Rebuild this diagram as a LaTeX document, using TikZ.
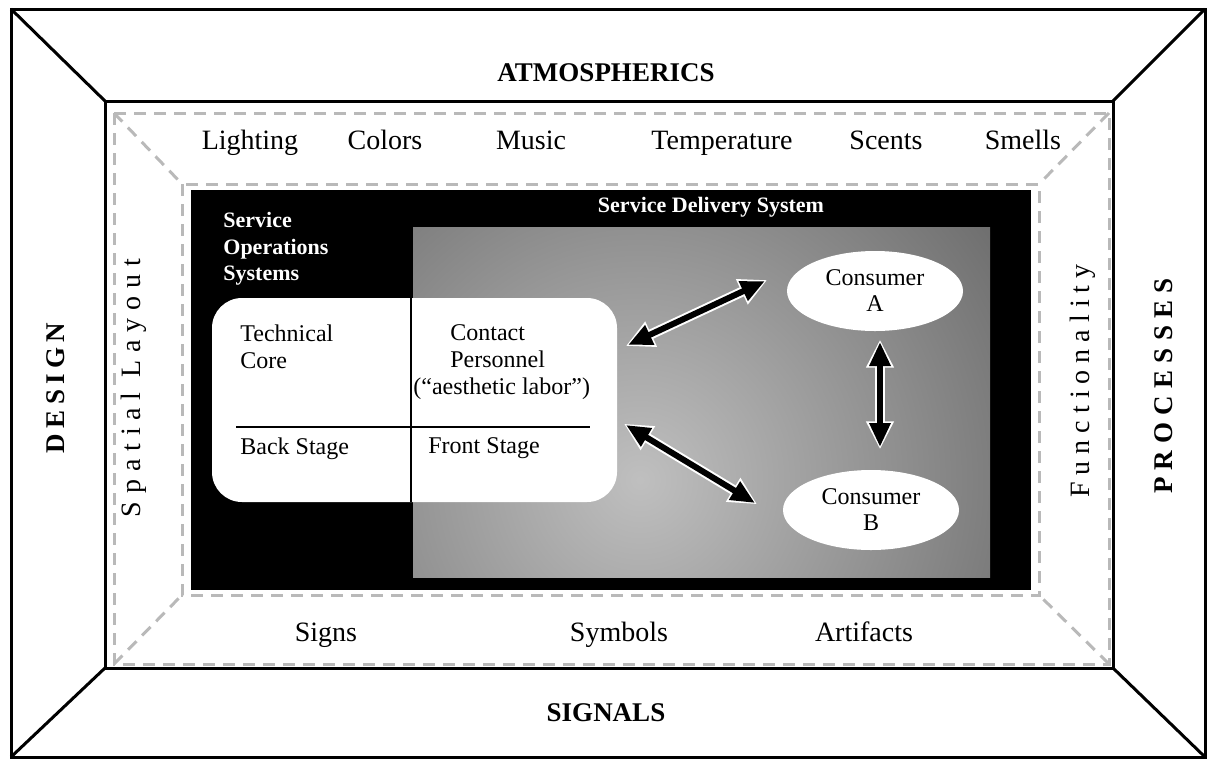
\documentclass[tikz,border=0pt]{standalone}
\usepackage{fontspec}
\setmainfont{Liberation Serif}
\usetikzlibrary{arrows.meta,shapes.geometric}
\tikzset{%
  >={Triangle[length=12pt,width=10pt]},
  % Specifications for style of lines and nodes:
       frameline/.style = {line width=1.5pt, draw=black},
        dashline/.style = {line width=1.5pt, draw=gray!55,
                           dash pattern=on 6pt off 4pt},
      outerlabel/.style = {font=\fontsize{13.5}{16}\selectfont\bfseries},
     spacedouter/.style = {rotate=90, font=\fontsize{13.5}{16}\selectfont\bfseries
                           \addfontfeature{LetterSpace=#1}},
       ringlabel/.style = {font=\fontsize{14}{17}\selectfont},
      spacedring/.style = {rotate=90, font=\fontsize{14}{17}\selectfont
                           \addfontfeature{LetterSpace=#1}},
       whitehead/.style = {text=white, inner sep=0pt,
                           font=\fontsize{11}{13.25}\selectfont\bfseries},
       stagetext/.style = {inner sep=0pt, align=left,
                           font=\fontsize{12}{13.5}\selectfont},
        consumer/.style = {ellipse, fill=white, inner sep=0pt, align=center,
                           minimum width=88pt, minimum height=40pt,
                           font=\fontsize{12}{13}\selectfont},
        dblarrow/.style = {<->, line width=3pt, draw=black,
                           preaction={draw=white, line width=5pt,
                           {Triangle[length=14pt,width=13pt]}-{Triangle[length=14pt,width=13pt]},
                           shorten <=-1.2pt, shorten >=-1.2pt}},
}

\begin{document}
\begin{tikzpicture}[x=0.5pt, y=-0.5pt]
  \useasboundingbox (0,0) rectangle (1211,762);
  % Frames of the room
  \draw[frameline] (11,9) rectangle (1205,757);
  \draw[frameline] (105,101) rectangle (1113,668);
  \draw[frameline] (11,9) -- (105,101) (1205,9) -- (1113,101)
                   (11,757) -- (105,668) (1205,757) -- (1113,668);
  \draw[dashline] (114,113) rectangle (1109,664);
  \draw[dashline] (182,184) rectangle (1039,595);
  \draw[dashline] (114,113) -- (182,184) (1109,113) -- (1039,184)
                  (114,664) -- (182,595) (1109,664) -- (1039,595);
  % Service delivery system
  \fill[black] (191,190) rectangle (1031,590);
  \begin{scope}
    \clip (413,227) rectangle (990,577);
    \shade[inner color=gray!50, outer color=gray!80!black] (640,480) circle [radius=240pt];
  \end{scope}
  % Specification of nodes (position, etc.)
  \node (atmo)    [outerlabel] at (606,73)  {ATMOSPHERICS};
  \node (signals) [outerlabel] at (606,713) {SIGNALS};
  \node (design)  [spacedouter=20] at (56,388)  {DESIGN};
  \node (process) [spacedouter=27] at (1164,386) {PROCESSES};
  \node (light)  [ringlabel, anchor=base] at (250,149) {Lighting};
  \node (colors) [ringlabel, anchor=base] at (385,149) {Colors};
  \node (music)  [ringlabel, anchor=base] at (531,149) {Music};
  \node (temp)   [ringlabel, anchor=base] at (722,149) {Temperature};
  \node (scents) [ringlabel, anchor=base] at (886,149) {Scents};
  \node (smells) [ringlabel, anchor=base] at (1023,149) {Smells};
  \node (signs)   [ringlabel, anchor=base] at (326,641) {Signs};
  \node (symbols) [ringlabel, anchor=base] at (619,641) {Symbols};
  \node (artif)   [ringlabel, anchor=base] at (864,641) {Artifacts};
  \node (spatial) [spacedring=28] at (134,388) {Spatial Layout};
  \node (funct)   [spacedring=25] at (1083,381) {Functionality};
  \node (sos) [whitehead, align=left, anchor=north west] at (223,212)
        {Service\\Operations\\Systems};
  \node (sds) [whitehead, anchor=base] at (711,212) {Service Delivery System};
  \node (stage) [fill=white, rounded corners=15pt, inner sep=0pt,
        minimum width=202.5pt, minimum height=102pt] at (414.5,400) {};
  \draw[line width=1pt] (411,298) -- (411,502);
  \draw[line width=1pt] (236,427) -- (590,427);
  \node (core)    [stagetext, anchor=north west] at (240,324) {Technical\\Core};
  \node (contact) [stagetext, anchor=north west] at (413,324)
        {\hspace*{18.5pt}Contact\\\hspace*{18.5pt}Personnel\\(“aesthetic labor”)};
  \node (back)  [stagetext, anchor=north west] at (240,437) {Back Stage};
  \node (front) [stagetext, anchor=north west] at (428,437) {Front Stage};
  \node (consA) [consumer] at (875,291) {Consumer\\A};
  \node (consB) [consumer] at (871,510) {Consumer\\B};
  % Ends of the arrows
  \coordinate (toA)   at (628,345);
  \coordinate (atA)   at (765,281);
  \coordinate (toB)   at (626,425);
  \coordinate (atB)   at (755,503);
  \coordinate (downA) at (880,342);
  \coordinate (upB)   at (880,447);
  \draw[dblarrow] (toA) -- (atA);
  \draw[dblarrow] (toB) -- (atB);
  \draw[dblarrow] (downA) -- (upB);
\end{tikzpicture}
\end{document}
